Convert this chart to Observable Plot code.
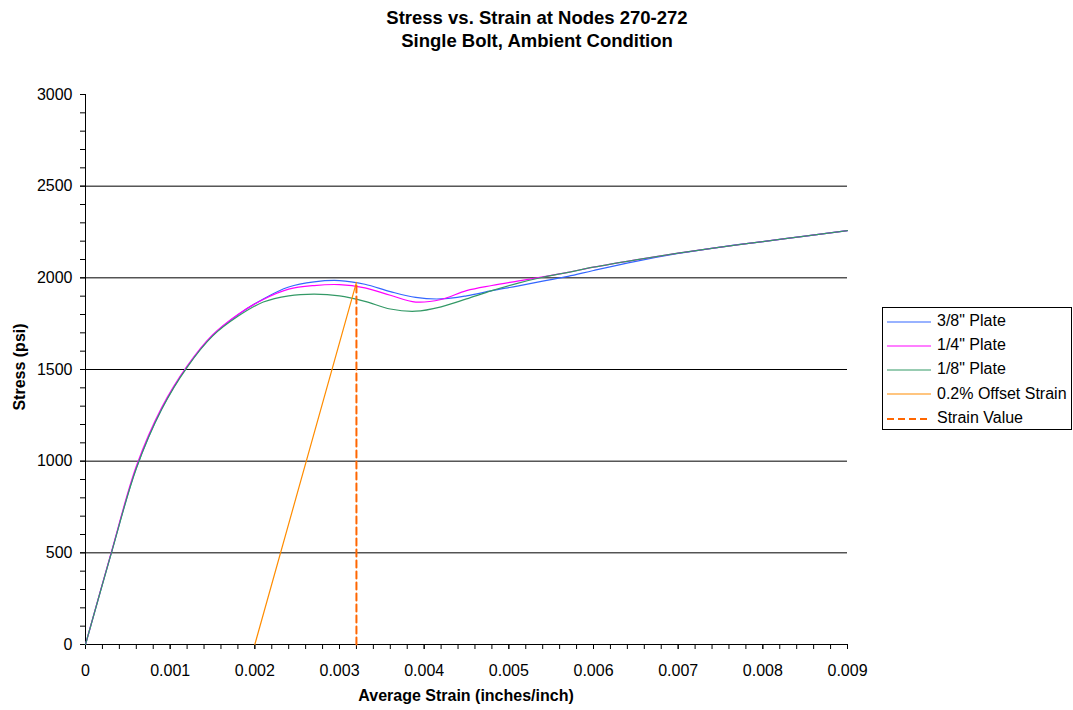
<!DOCTYPE html>
<html>
<head>
<meta charset="utf-8">
<script src="https://cdn.jsdelivr.net/npm/d3@7"></script>
<script src="https://cdn.jsdelivr.net/npm/@observablehq/plot@0.6"></script>
<style>
  html, body { margin: 0; padding: 0; background: #fff; }
  #wrap { position: relative; width: 1073px; height: 710px; font-family: "Liberation Sans", Arial, sans-serif; color: #000; }
  #wrap > svg { position: absolute; left: 0; top: 0; }
  .title { position: absolute; left: 0; width: 1074px; text-align: center; font-weight: bold; font-size: 18.5px; line-height: 22px; }
  .ylab { position: absolute; left: 20px; top: 367px; transform: translate(-50%, -50%) rotate(-90deg); font-weight: bold; font-size: 16px; white-space: nowrap; }
  .xlab { position: absolute; left: 466px; top: 696px; transform: translate(-50%, -50%); font-weight: bold; font-size: 16px; white-space: nowrap; }
  #legend { position: absolute; left: 882px; top: 307px; width: 190px; height: 123px; border: 1px solid #000; box-sizing: border-box; background: #fff; }
  .item { position: absolute; left: 4px; height: 20px; font-size: 16px; line-height: 20px; white-space: nowrap; }
  .item svg { vertical-align: middle; margin-right: 6px; }
</style>
</head>
<body>
<div id="wrap">
  <div class="title" style="top:7px">Stress vs. Strain at Nodes 270-272</div>
  <div class="title" style="top:30px">Single Bolt, Ambient Condition</div>
  <div class="ylab">Stress (psi)</div>
  <div class="xlab">Average Strain (inches/inch)</div>
  <div id="legend"></div>
</div>
<script>
// ---- data ----
const strain = [0, 0.0003, 0.0006, 0.0009, 0.0012, 0.0015, 0.0018, 0.0021, 0.0024, 0.0027, 0.003, 0.0033, 0.0036, 0.0039, 0.0042, 0.0045, 0.0048, 0.0051, 0.0054, 0.0057, 0.006, 0.0065, 0.007, 0.0075, 0.008, 0.0085, 0.009];
const plate38 = [0, 492, 962, 1285, 1515, 1685, 1798, 1885, 1950, 1978, 1985, 1965, 1925, 1893, 1885, 1902, 1930, 1955, 1982, 2008, 2040, 2090, 2133, 2168, 2198, 2228, 2258];
const plate14 = [0, 495, 972, 1292, 1518, 1688, 1800, 1882, 1938, 1958, 1963, 1945, 1905, 1868, 1882, 1930, 1958, 1982, 2005, 2030, 2058, 2098, 2135, 2168, 2198, 2228, 2258];
const plate18 = [0, 490, 960, 1283, 1512, 1682, 1790, 1868, 1902, 1911, 1902, 1872, 1830, 1818, 1842, 1885, 1930, 1970, 2003, 2030, 2058, 2098, 2135, 2168, 2198, 2228, 2258];
const offsetStrain = [0.002, 0.0032];
const offsetStress = [0, 1975];
const strainValueX = [0.0032, 0.0032];
const strainValueY = [0, 1975];
const seriesNames = ['3/8" Plate', '1/4" Plate', '1/8" Plate', '0.2% Offset Strain', 'Strain Value'];
const seriesColors = ["#3366FF", "#FF00FF", "#339966", "#FF8C00", "#FF6600"];
const xTicks = [0, 0.001, 0.002, 0.003, 0.004, 0.005, 0.006, 0.007, 0.008, 0.009];
const yTicks = [0, 500, 1000, 1500, 2000, 2500, 3000];
const gridY = [500, 1000, 1500, 2000, 2500];

const xMinor = d3.range(0, 46).map(i => i * 0.0002);
const yMinor = d3.range(0, 31).map(i => i * 100);
const toRows = ys => strain.map((s, i) => ({x: s, y: ys[i]}));
const pairRows = (xs, ys) => xs.map((x, i) => ({x, y: ys[i]}));

const chart = Plot.plot({
  width: 1073, height: 710,
  marginLeft: 85, marginRight: 226, marginTop: 94, marginBottom: 66,
  x: {domain: [0, 0.009]},
  y: {domain: [0, 3000]},
  style: {fontFamily: '"Liberation Sans", Arial, sans-serif', fontSize: "16px", color: "#000", background: "transparent"},
  marks: [
    Plot.ruleY(gridY, {stroke: "#000", strokeWidth: 1}),
    Plot.axisY({ticks: yMinor, tickSize: 5, text: null, label: null, strokeOpacity: 1}),
    Plot.axisY({ticks: yTicks, tickSize: 5, tickPadding: 8, tickFormat: d => String(d), label: null, fontSize: 16, strokeOpacity: 1}),
    Plot.axisX({ticks: xMinor, tickSize: 5, text: null, label: null, strokeOpacity: 1}),
    Plot.axisX({ticks: xTicks, tickSize: 5, tickPadding: 15, tickFormat: d => d === 0 ? "0" : d3.format(".3f")(d), label: null, fontSize: 16, strokeOpacity: 1}),
    Plot.ruleX([0], {stroke: "#000", strokeWidth: 1}),
    Plot.ruleY([0], {stroke: "#000", strokeWidth: 1}),
    Plot.line(toRows(plate38), {x: "x", y: "y", stroke: seriesColors[0], strokeWidth: 1.2, curve: "catmull-rom"}),
    Plot.line(toRows(plate14), {x: "x", y: "y", stroke: seriesColors[1], strokeWidth: 1.2, curve: "catmull-rom"}),
    Plot.line(toRows(plate18), {x: "x", y: "y", stroke: seriesColors[2], strokeWidth: 1.2, curve: "catmull-rom"}),
    Plot.line(pairRows(offsetStrain, offsetStress), {x: "x", y: "y", stroke: seriesColors[3], strokeWidth: 1.2}),
    Plot.line(pairRows(strainValueX, strainValueY), {x: "x", y: "y", stroke: seriesColors[4], strokeWidth: 2, strokeDasharray: "7,4"})
  ]
});
document.getElementById("wrap").prepend(chart);

// legend
const legend = document.getElementById("legend");
seriesNames.forEach((name, i) => {
  const div = document.createElement("div");
  div.className = "item";
  div.style.top = (3 + i * 24.2) + "px";
  const dashed = i === 4;
  div.innerHTML = `<svg width="44" height="6"><line x1="0" y1="3" x2="44" y2="3" stroke="${seriesColors[i]}" stroke-width="${dashed ? 2 : 1.2}" ${dashed ? 'stroke-dasharray="7,4"' : ''}/></svg>${name}`;
  legend.appendChild(div);
});
</script>
</body>
</html>
